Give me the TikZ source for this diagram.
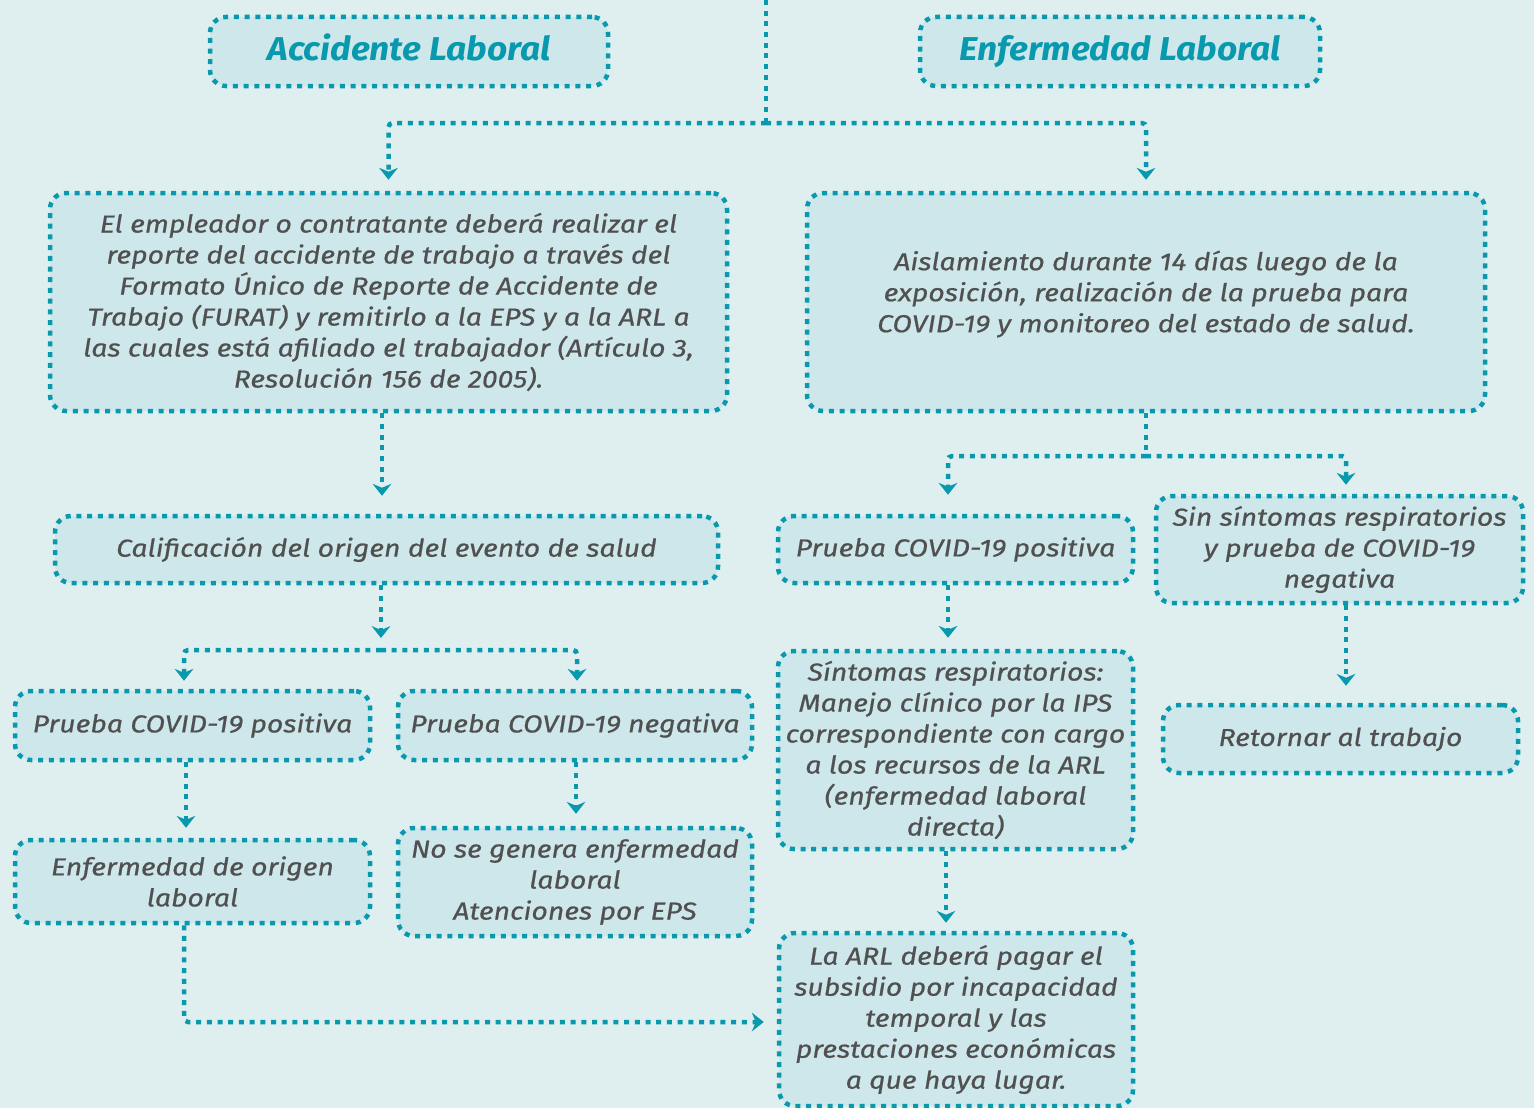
\documentclass[tikz,border=0pt]{standalone}
\usepackage{fontspec}
\setmainfont{Fira Sans}[ItalicFeatures={FakeStretch=1.16,FakeBold=0.6},BoldItalicFeatures={FakeStretch=1.07}]
\usetikzlibrary{arrows.meta,calc}
\definecolor{bg}{HTML}{DFEFEF}
\definecolor{boxfill}{HTML}{CDE7EA}
\definecolor{teal}{HTML}{0999AE}
\definecolor{txt}{HTML}{505050}
\newcommand{\liftto}[2]{\raisebox{#1}[\height][\depth]{#2}}
\tikzset{
  dots/.style={draw=teal,line width=4.5pt,dash pattern=on 5pt off 5.7pt},
  box/.style={dots,fill=boxfill,rounded corners=16pt,align=center,inner sep=0pt,
    text=txt,font=\fontsize{24.5}{31}\selectfont\itshape},
  titlebox/.style={box,text=teal,font=\fontsize{33}{38}\selectfont\bfseries\itshape,text height=23pt,text depth=6pt},
  arr/.style={dots,rounded corners=4pt,-{Stealth[length=12pt,width=19pt,inset=4pt,line width=0pt]}},
  bus/.style={dots,rounded corners=4pt}
}
\begin{document}
\begin{tikzpicture}[x=1pt,y=-1pt]
\fill[bg] (0,0) rectangle (1534,1108);
\useasboundingbox (0,0) rectangle (1534,1108);

\node[titlebox,minimum width=398pt,minimum height=69pt] (TA) at (409,51.5) {Accidente Laboral};
\node[titlebox,minimum width=400pt,minimum height=69pt] (TE) at (1120,51.5) {Enfermedad Laboral};

\node[box,minimum width=677pt,minimum height=218pt] (A1) at (388.5,302)
 {El empleador o contratante deberá realizar el\\reporte del accidente de trabajo a través del\\Formato Único de Reporte de Accidente de\\Trabajo (FURAT) y remitirlo a la EPS y a la ARL a\\las cuales está afiliado el trabajador (Artículo 3,\\Resolución 156 de 2005).};
\node[box,minimum width=678pt,minimum height=218pt] (B1) at (1146,302)
 {\liftto{7pt}{\begin{tabular}{@{}c@{}}Aislamiento durante 14 días luego de la\\exposición, realización de la prueba para\\COVID-19 y monitoreo del estado de salud.\end{tabular}}};

\node[box,minimum width=663pt,minimum height=67pt] (A2) at (386.5,549.5) {Calificación del origen del evento de salud};
\node[box,minimum width=355pt,minimum height=69pt] (A3) at (192.5,725.5) {Prueba COVID-19 positiva};
\node[box,minimum width=354pt,minimum height=69pt] (A4) at (575,725.5) {Prueba COVID-19 negativa};
\node[box,minimum width=355pt,minimum height=83pt] (A5) at (192.5,881.5) {Enfermedad de origen\\laboral};
\node[box,minimum width=354pt,minimum height=108pt] (A6) at (575,882) {No se genera enfermedad\\laboral\\Atenciones por EPS};

\node[box,minimum width=355pt,minimum height=67pt] (B2) at (955.5,549.5) {Prueba COVID-19 positiva};
\node[box,minimum width=367pt,minimum height=107pt] (B3) at (1339.5,549.5) {Sin síntomas respiratorios\\y prueba de COVID-19\\negativa};
\node[box,minimum width=355pt,minimum height=198pt] (C1) at (955.5,750) {Síntomas respiratorios:\\Manejo clínico por la IPS\\correspondiente con cargo\\a los recursos de la ARL\\(enfermedad laboral\\directa)};
\node[box,minimum width=355pt,minimum height=68pt] (B4) at (1340.5,739) {Retornar al trabajo};
\node[box,minimum width=354pt,minimum height=173pt] (C3) at (956,1019.5) {La ARL deberá pagar el\\subsidio por incapacidad\\temporal y las\\prestaciones económicas\\a que haya lugar.};

% top connector
\coordinate (top) at (766,0);
\coordinate (J1) at (766,123);
\draw[bus] (top) -- (J1);
\draw[arr,shorten >=11pt] (J1) -| (A1.north);
\draw[arr,shorten >=11pt] (J1) -| (B1.north);

% left column
\draw[arr,shorten >=18pt] ([xshift=-6.5pt]A1.south) -- ([xshift=-4.5pt]A2.north);
\coordinate (J2) at (381,650);
\draw[arr,shorten >=12pt] ([xshift=-5.5pt]A2.south) -- (J2);
\draw[arr,shorten >=8pt] (J2) -| ([xshift=-8.5pt]A3.north);
\draw[arr,shorten >=8pt] (J2) -| ([xshift=2pt]A4.north);
\draw[arr,shorten >=10pt] ([xshift=-6.5pt]A3.south) -- ([xshift=-6.5pt]A5.north);
\draw[arr,shorten >=12pt] ([xshift=1pt]A4.south) -- ([xshift=1pt]A6.north);
\draw[arr,shorten >=13pt] ([xshift=-8.5pt]A5.south) |- ([yshift=-2.5pt]C3.west);

% right column
\coordinate (J3) at (1146,456);
\draw[bus] (B1.south) -- (J3);
\draw[arr,shorten >=19pt] (J3) -| ([xshift=-7.5pt]B2.north);
\draw[arr,shorten >=9pt] (J3) -| ([xshift=6.5pt]B3.north);
\draw[arr,shorten >=11pt] ([xshift=-7.5pt]B2.south) -- ([xshift=-7.5pt]C1.north);
\draw[arr,shorten >=17pt] ([xshift=6.5pt]B3.south) -- ([xshift=5.5pt]B4.north);
\draw[arr,shorten >=8pt] ([xshift=-9.5pt]C1.south) -- ([xshift=-10pt]C3.north);
\end{tikzpicture}
\end{document}
